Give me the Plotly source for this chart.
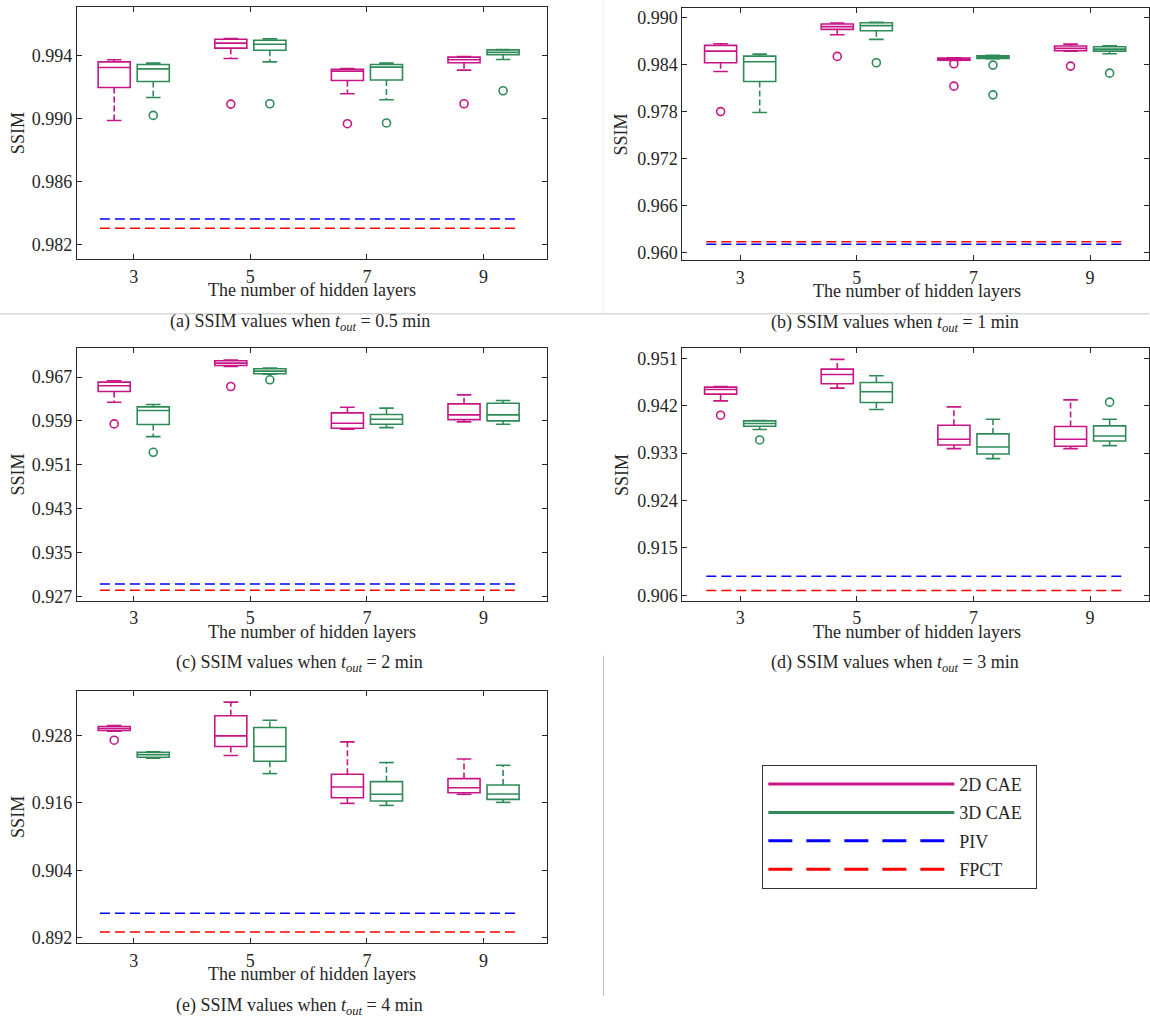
import plotly.graph_objects as go

W, H = 1150, 1017
VK = 0.993          # measured vertical scale of the page capture
FONT = "Liberation Serif, Times New Roman, serif"
TXT = "#262626"
C2D = "#C71585"
C3D = "#2E8B57"
CPIV = "#0000FF"
CFPCT = "#FF0000"
FS = 18

GROUPS = [3, 5, 7, 9]
GROUP_LABELS = ["3", "5", "7", "9"]

# each row: [lower whisker, q1, median, q3, upper whisker] for 3, 5, 7, 9 hidden layers
A_2D = [[0.98989, 0.99199, 0.99326, 0.99362, 0.99375],
        [0.99383, 0.99449, 0.99481, 0.99506, 0.99510],
        [0.99159, 0.99243, 0.99303, 0.99315, 0.99320],
        [0.99309, 0.99356, 0.99375, 0.99392, 0.99396]]
A_3D = [[0.99135, 0.99237, 0.99317, 0.99345, 0.99354],
        [0.99362, 0.99436, 0.99474, 0.99499, 0.99508],
        [0.99121, 0.99246, 0.99328, 0.99345, 0.99354],
        [0.99377, 0.99408, 0.99423, 0.99438, 0.99440]]
A_2D_OUT = [[], [0.99093], [0.98968], [0.99095]]
A_3D_OUT = [[0.99021], [0.99095], [0.98973], [0.99178]]

B_2D = [[0.98315, 0.98426, 0.98576, 0.98649, 0.98670],
        [0.98786, 0.98854, 0.98889, 0.98923, 0.98936],
        [0.98457, 0.98461, 0.98474, 0.98486, 0.98491],
        [0.98576, 0.98581, 0.98611, 0.98641, 0.98666]]
B_3D = [[0.97789, 0.98187, 0.98439, 0.98512, 0.98538],
        [0.98726, 0.98837, 0.98902, 0.98940, 0.98944],
        [0.98478, 0.98482, 0.98499, 0.98516, 0.98521],
        [0.98542, 0.98576, 0.98602, 0.98632, 0.98645]]
B_2D_OUT = [[0.97801], [0.98508], [0.98414, 0.98127], [0.98384]]
B_3D_OUT = [[], [0.98427], [0.98397, 0.98016], [0.98294]]

C_2D = [[0.96243, 0.96438, 0.96542, 0.96609, 0.96633],
        [0.96895, 0.96913, 0.96956, 0.96999, 0.97011],
        [0.95750, 0.95768, 0.95859, 0.96048, 0.96152],
        [0.95884, 0.95926, 0.96012, 0.96213, 0.96377]]
C_3D = [[0.95615, 0.95835, 0.96091, 0.96158, 0.96200],
        [0.96755, 0.96761, 0.96810, 0.96852, 0.96865],
        [0.95780, 0.95841, 0.95932, 0.96018, 0.96134],
        [0.95841, 0.95902, 0.96012, 0.96225, 0.96273]]
C_2D_OUT = [[0.95847], [0.96529], [], []]
C_3D_OUT = [[0.95329], [0.96651], [], []]

D_2D = [[0.94294, 0.94421, 0.94510, 0.94554, 0.94567],
        [0.94535, 0.94618, 0.94795, 0.94897, 0.95081],
        [0.93386, 0.93456, 0.93564, 0.93831, 0.94180],
        [0.93386, 0.93431, 0.93564, 0.93805, 0.94313]]
D_3D = [[0.93748, 0.93811, 0.93862, 0.93913, 0.93920],
        [0.94129, 0.94262, 0.94465, 0.94643, 0.94770],
        [0.93196, 0.93285, 0.93418, 0.93666, 0.93945],
        [0.93443, 0.93532, 0.93627, 0.93818, 0.93945]]
D_2D_OUT = [[0.94021], [], [], []]
D_3D_OUT = [[0.93551], [], [], [0.94269]]

E_2D = [[0.92871, 0.92883, 0.92919, 0.92954, 0.92972],
        [0.92438, 0.92598, 0.92788, 0.93145, 0.93388],
        [0.91588, 0.91689, 0.91879, 0.92105, 0.92681],
        [0.91749, 0.91778, 0.91867, 0.92028, 0.92378]]
E_3D = [[0.92390, 0.92408, 0.92455, 0.92497, 0.92503],
        [0.92117, 0.92337, 0.92598, 0.92937, 0.93067],
        [0.91552, 0.91630, 0.91749, 0.91974, 0.92313],
        [0.91606, 0.91659, 0.91754, 0.91915, 0.92265]]
E_2D_OUT = [[0.92711], [], [], []]
E_3D_OUT = [[], [], [], []]

PIV = [0.98361, 0.96101, 0.92929, 0.90962, 0.89634]
FPCT = [0.98303, 0.96135, 0.92813, 0.90689, 0.89301]

Y_TICKS = [[0.982, 0.986, 0.990, 0.994],
           [0.960, 0.966, 0.972, 0.978, 0.984, 0.990],
           [0.927, 0.935, 0.943, 0.951, 0.959, 0.967],
           [0.906, 0.915, 0.924, 0.933, 0.942, 0.951],
           [0.892, 0.904, 0.916, 0.928]]
Y_RANGES = [[0.98105, 0.99711], [0.95897, 0.99128], [0.92624, 0.97224],
            [0.90498, 0.95290], [0.89105, 0.93590]]
CAPTIONS = ["(a) SSIM values when <i>t</i><sub><i>out</i></sub> = 0.5 min",
            "(b) SSIM values when <i>t</i><sub><i>out</i></sub> = 1 min",
            "(c) SSIM values when <i>t</i><sub><i>out</i></sub> = 2 min",
            "(d) SSIM values when <i>t</i><sub><i>out</i></sub> = 3 min",
            "(e) SSIM values when <i>t</i><sub><i>out</i></sub> = 4 min"]

PANELS = [(A_2D, A_3D, A_2D_OUT, A_3D_OUT), (B_2D, B_3D, B_2D_OUT, B_3D_OUT),
          (C_2D, C_3D, C_2D_OUT, C_3D_OUT), (D_2D, D_3D, D_2D_OUT, D_3D_OUT),
          (E_2D, E_3D, E_2D_OUT, E_3D_OUT)]

# layout geometry in screen pixels: (left, right, top, bottom)
BOXES = [(77, 547, 7, 259), (683, 1150, 8, 260), (77, 547, 348, 600),
         (683, 1150, 348, 600), (77, 547, 690, 942)]
X_RANGES = [[2.026, 10.08], [2.01, 10.01], [2.026, 10.08], [2.01, 10.01], [2.026, 10.08]]
OFFSET = 0.335
BOX_W = 0.55
CAP_HALF = 0.125
REF_SPAN = [2.42, 9.6]


def clamp(v):
    return max(0.0, min(1.0, v))


def px(x):
    return clamp(x / W)


def py(y):
    return clamp(1 - (y / VK) / H)


fig = go.Figure()
annotations = []
layout_axes = {}

for i, (s2, s3, o2, o3) in enumerate(PANELS):
    n = "" if i == 0 else str(i + 1)
    xa, ya = "x" + n, "y" + n
    L, R, T, B = BOXES[i]
    left_col = L < 600
    for stats, outs, col, sgn in ((s2, o2, C2D, -1), (s3, o3, C3D, 1)):
        xs = [g + sgn * OFFSET for g in GROUPS]
        fig.add_trace(go.Box(
            x=xs, q1=[s[1] for s in stats], median=[s[2] for s in stats],
            q3=[s[3] for s in stats], lowerfence=[s[1] for s in stats],
            upperfence=[s[3] for s in stats], width=BOX_W, whiskerwidth=0,
            boxpoints=False, line=dict(color=col, width=1.6),
            fillcolor="rgba(0,0,0,0)", showlegend=False, hoverinfo="skip",
            xaxis=xa, yaxis=ya))
        wx, wy, cx, cy = [], [], [], []
        for x, s in zip(xs, stats):
            wx += [x, x, None, x, x, None]
            wy += [s[3], s[4], None, s[1], s[0], None]
            cx += [x - CAP_HALF, x + CAP_HALF, None, x - CAP_HALF, x + CAP_HALF, None]
            cy += [s[4], s[4], None, s[0], s[0], None]
        fig.add_trace(go.Scatter(x=wx, y=wy, mode="lines",
                                 line=dict(color=col, width=1.6, dash="6px,3px"),
                                 showlegend=False, hoverinfo="skip", xaxis=xa, yaxis=ya))
        fig.add_trace(go.Scatter(x=cx, y=cy, mode="lines",
                                 line=dict(color=col, width=1.6),
                                 showlegend=False, hoverinfo="skip", xaxis=xa, yaxis=ya))
        ox, oy = [], []
        for x, lst in zip(xs, outs):
            for v in lst:
                ox.append(x)
                oy.append(v)
        fig.add_trace(go.Scatter(x=ox, y=oy, mode="markers",
                                 marker=dict(symbol="circle-open", size=8, color=col,
                                             line=dict(width=1.6, color=col)),
                                 showlegend=False, hoverinfo="skip", xaxis=xa, yaxis=ya))
    for val, col in ((PIV[i], CPIV), (FPCT[i], CFPCT)):
        fig.add_trace(go.Scatter(x=REF_SPAN, y=[val, val], mode="lines",
                                 line=dict(color=col, width=1.5, dash="10px,5px"),
                                 showlegend=False, hoverinfo="skip", xaxis=xa, yaxis=ya))

    common = dict(showline=True, linecolor=TXT, linewidth=1, mirror="allticks",
                  ticks="inside", ticklen=5, tickcolor=TXT, showgrid=False,
                  zeroline=False, tickfont=dict(family=FONT, size=FS, color=TXT))
    layout_axes["xaxis" + n] = dict(common, domain=[px(L), px(R)], range=X_RANGES[i],
                                    tickvals=GROUPS, ticktext=GROUP_LABELS,
                                    anchor=ya, ticklabelstandoff=1)
    layout_axes["yaxis" + n] = dict(common, domain=[py(B), py(T)], range=Y_RANGES[i],
                                    tickvals=Y_TICKS[i],
                                    ticktext=["%.3f" % v for v in Y_TICKS[i]],
                                    anchor=xa)
    ann = dict(xref="paper", yref="paper", showarrow=False, xanchor="center",
               yanchor="middle", font=dict(family=FONT, size=FS, color=TXT))
    annotations.append(dict(ann, text="SSIM", x=px(18 if left_col else 622),
                            y=py((T + B) / 2), textangle=-90))
    annotations.append(dict(ann, text="The number of hidden layers",
                            x=px(312 if left_col else 918), y=py(B + 31)))
    annotations.append(dict(ann, text=CAPTIONS[i], x=px(300 if left_col else 896),
                            y=py(B + 63)))

# legend entries
PAD = "\u00a0" * 2
for name, col, dash, grp in (("2D CAE", C2D, "solid", "g1"), ("3D CAE", C3D, "solid", "g2"),
                             ("PIV", CPIV, "24px,14px", "g3"), ("FPCT", CFPCT, "24px,14px", "g4")):
    fig.add_trace(go.Scatter(x=[None], y=[None], mode="lines", name=name + PAD,
                             legendgroup=grp, line=dict(color=col, width=3, dash=dash),
                             xaxis="x5", yaxis="y5"))

shapes = [
    dict(type="line", xref="paper", yref="paper", x0=0, x1=1, y0=py(313.5), y1=py(313.5),
         line=dict(color="#c4c4c4", width=1)),
    dict(type="line", xref="paper", yref="paper", x0=px(603.5), x1=px(603.5), y0=py(0), y1=py(313),
         line=dict(color="#ececec", width=1)),
    dict(type="line", xref="paper", yref="paper", x0=px(604), x1=px(604), y0=py(655), y1=py(995),
         line=dict(color="#c4c4c4", width=1)),
]

fig.update_layout(
    width=W, height=H, margin=dict(l=0, r=0, t=0, b=0),
    paper_bgcolor="white", plot_bgcolor="white",
    font=dict(family=FONT, size=FS, color=TXT),
    annotations=annotations, shapes=shapes,
    showlegend=True,
    legend=dict(x=px(763), y=py(764), xanchor="left", yanchor="top",
                bordercolor="#333333", borderwidth=1, bgcolor="white",
                font=dict(family=FONT, size=FS, color=TXT),
                itemwidth=186, traceorder="grouped", tracegroupgap=2),
    **layout_axes,
)

fig.write_html("out.html", config={"displayModeBar": False},
               post_script="document.body.style.margin='0';document.body.style.overflow='hidden';")
